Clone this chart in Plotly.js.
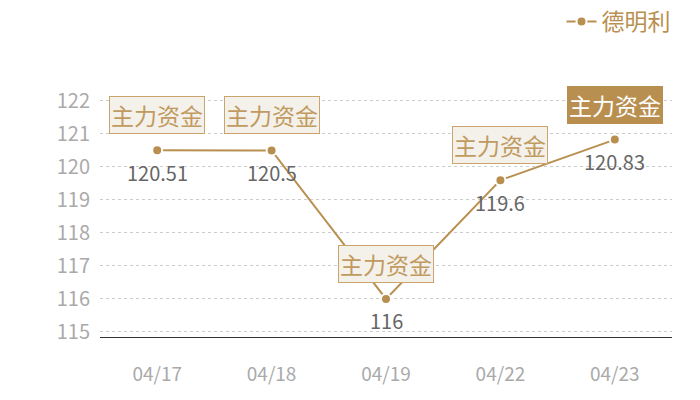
<!DOCTYPE html>
<html><head><meta charset="utf-8">
<script src="https://cdn.plot.ly/plotly-3.0.1.min.js"></script>
<style>body{margin:0;background:#fff}#c{width:700px;height:400px}</style>
</head><body><div id="c"></div>
<script>
const dates = ['04/17','04/18','04/19','04/22','04/23'];
const prices = [120.51, 120.5, 116, 119.6, 120.83];
const priceLabels = ['120.51','120.5','116','119.6','120.83'];
const seriesName = '德明利';
const tagText = '主力资金';
const yTicks = [115,116,117,118,119,120,121,122];

const gold = '#b98f4f';
const font = '"Noto Sans CJK SC", "Noto Sans", sans-serif';

const annotations = [];
dates.forEach((d, i) => {
  const last = i === dates.length - 1;
  annotations.push({
    x: d, y: prices[i], xref: 'x', yref: 'y',
    text: tagText, showarrow: false, yshift: 35,
    font: {family: font, size: 23, color: last ? '#ffffff' : '#c09a5e'},
    bgcolor: last ? gold : '#f4f0ea',
    bordercolor: last ? gold : '#c9a56d',
    borderwidth: 1, borderpad: 1
  });
  annotations.push({
    x: d, y: prices[i], xref: 'x', yref: 'y',
    text: priceLabels[i], showarrow: false, yshift: -22,
    font: {family: font, size: 20, color: '#666666'}
  });
});

const trace = {
  x: dates, y: prices, type: 'scatter', mode: 'lines+markers',
  name: seriesName,
  line: {color: gold, width: 2},
  marker: {color: gold, size: 10, line: {color: '#ffffff', width: 2}},
  cliponaxis: false
};

const layout = {
  width: 700, height: 400,
  margin: {l: 100, r: 28, t: 85, b: 63, autoexpand: false},
  paper_bgcolor: '#fff', plot_bgcolor: '#fff',
  font: {family: font},
  showlegend: true,
  legend: {x: 0.965, y: 1.01, xref: 'container', yref: 'container', xanchor: 'right', yanchor: 'top',
           font: {family: font, size: 23, color: gold}, bgcolor: 'rgba(0,0,0,0)'},
  xaxis: {type: 'category', range: [-0.5, 4.5], showgrid: false, zeroline: false,
          showline: true, linecolor: '#333', linewidth: 1, ticks: '',
          tickfont: {family: font, size: 19, color: '#aaaaaa'}, ticklabelstandoff: 20,
          fixedrange: true},
  yaxis: {range: [114.848, 122.484], tickvals: yTicks, showgrid: true,
          gridcolor: '#cccccc', griddash: 'dot', gridwidth: 1, zeroline: false, showline: false,
          tickfont: {family: font, size: 20, color: '#aaaaaa'}, ticklabelstandoff: 9},
  annotations: annotations
};

Plotly.newPlot('c', [trace], layout, {displayModeBar: false, staticPlot: true});
</script>
</body></html>
